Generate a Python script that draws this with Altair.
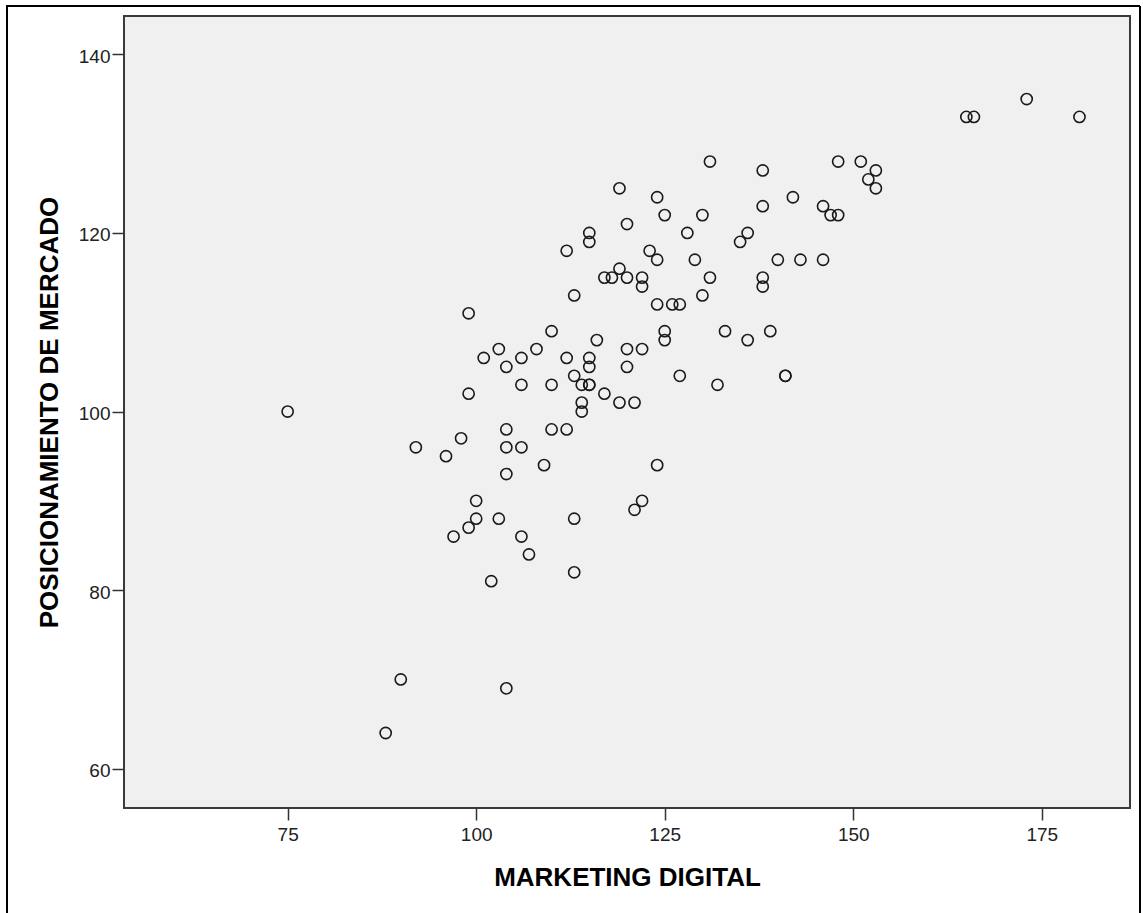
import altair as alt
import pandas as pd

# MARKETING DIGITAL (x) and POSICIONAMIENTO DE MERCADO (y)
marketing = [75, 88, 90, 92, 96, 97, 98, 99, 99, 99, 100, 100, 101, 102, 103, 103,
             104, 104, 104, 104, 104, 106, 106, 106, 106, 107, 108, 109, 110, 110, 110,
             112, 112, 112, 113, 113, 113, 113, 114, 114, 114, 115, 115, 115, 115, 115, 115,
             116, 117, 117, 118, 119, 119, 119, 120, 120, 120, 120, 121, 121,
             122, 122, 122, 122, 123, 124, 124, 124, 124, 125, 125, 125, 126, 127, 127,
             128, 129, 130, 130, 131, 131, 132, 133, 135, 136, 136, 138, 138, 138, 138,
             139, 140, 141, 141, 142, 143, 146, 146, 147, 148, 148, 151, 152, 153, 153,
             165, 166, 173, 180]
posicionamiento = [100, 64, 70, 96, 95, 86, 97, 111, 102, 87, 90, 88, 106, 81, 107, 88,
                   105, 98, 96, 93, 69, 106, 103, 96, 86, 84, 107, 94, 109, 103, 98,
                   118, 106, 98, 113, 104, 88, 82, 103, 101, 100, 120, 119, 106, 105, 103, 103,
                   108, 115, 102, 115, 125, 116, 101, 121, 115, 107, 105, 101, 89,
                   115, 114, 107, 90, 118, 124, 117, 112, 94, 122, 109, 108, 112, 112, 104,
                   120, 117, 122, 113, 128, 115, 103, 109, 119, 120, 108, 127, 123, 115, 114,
                   109, 117, 104, 104, 124, 117, 123, 117, 122, 128, 122, 128, 126, 127, 125,
                   133, 133, 135, 133]

x_ticks = [75, 100, 125, 150, 175]
y_ticks = [60, 80, 100, 120, 140]

df = pd.DataFrame({"MARKETING DIGITAL": marketing,
                   "POSICIONAMIENTO DE MERCADO": posicionamiento})

FONT = "Liberation Sans, Arial, sans-serif"

points = alt.Chart(df).mark_point(
    shape="circle", filled=False, size=125, stroke="#1a1a1a", strokeWidth=1.6, opacity=1
).encode(
    x=alt.X("MARKETING DIGITAL:Q",
            scale=alt.Scale(domain=[53.3, 186.7], nice=False, zero=False),
            axis=alt.Axis(values=x_ticks, grid=False, domain=False, tickSize=12, tickWidth=1.5,
                          tickColor="#333333", labelFont=FONT, labelFontSize=19,
                          labelColor="#222222", labelBaseline="alphabetic", labelPadding=20,
                          title="MARKETING DIGITAL", titleFont=FONT, titleFontSize=26,
                          titleFontWeight="bold", titleColor="#000000",
                          titleBaseline="alphabetic", titleY=77)),
    y=alt.Y("POSICIONAMIENTO DE MERCADO:Q",
            scale=alt.Scale(domain=[55.6, 144.3], nice=False, zero=False),
            axis=alt.Axis(values=y_ticks, grid=False, domain=False, tickSize=12, tickWidth=1.5,
                          tickColor="#333333", labelFont=FONT, labelFontSize=19,
                          labelColor="#222222", labelPadding=2, labelBaseline="alphabetic",
                          labelOffset=8,
                          title="POSICIONAMIENTO DE MERCADO", titleFont=FONT, titleFontSize=26,
                          titleFontWeight="bold", titleColor="#000000", titleAngle=270,
                          titleBaseline="alphabetic", titleAlign="center",
                          titleX=-67, titleY=396)),
)

border_df = pd.DataFrame({"k": [0]})
left_line = alt.Chart(border_df).mark_rule(color="#000000", strokeWidth=2).encode(
    x=alt.value(-117), y=alt.value(-10), y2=alt.value(905))
top_line = alt.Chart(border_df).mark_rule(color="#000000", strokeWidth=2).encode(
    x=alt.value(-118), x2=alt.value(1016), y=alt.value(-10))
right_line = alt.Chart(border_df).mark_rule(color="#000000", strokeWidth=2).encode(
    x=alt.value(1016), y=alt.value(-10), y2=alt.value(905))

chart = alt.layer(points, left_line, top_line, right_line).properties(
    width=1006, height=792,
    autosize=alt.AutoSizeParams(type="none"),
    padding={"left": 124, "top": 16, "right": 13, "bottom": 105},
    background="#ffffff",
).configure_view(
    fill="#F0F0F0", stroke="#3a3a3a", strokeWidth=2
)

chart.save("out.html", embed_options={"renderer": "svg", "actions": False})
